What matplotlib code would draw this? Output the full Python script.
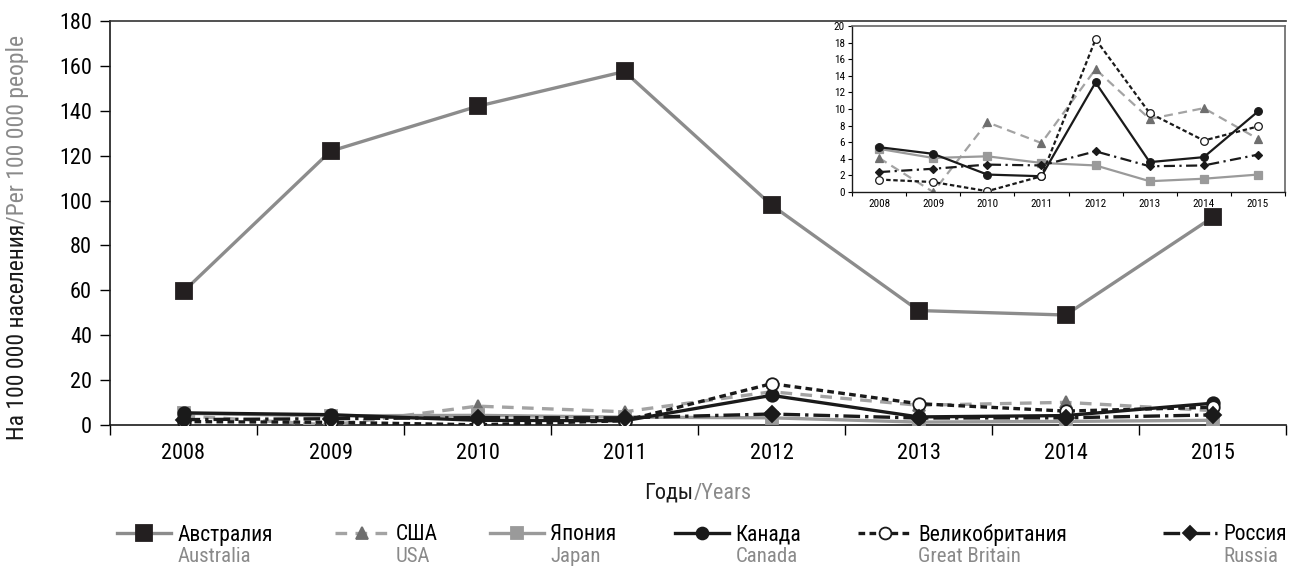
import numpy as np
import matplotlib
matplotlib.use("Agg")
import matplotlib.pyplot as plt
from matplotlib.ticker import FixedLocator
from matplotlib import font_manager

installed = {f.name for f in font_manager.fontManager.ttflist}
fams = [f for f in ['Roboto Condensed', 'Liberation Sans Narrow', 'Liberation Sans']
        if f in installed]
plt.rcParams['font.family'] = fams + ['DejaVu Sans']

years = ['2008', '2009', '2010', '2011', '2012', '2013', '2014', '2015']

australia = [59.5, 122, 142, 157.5, 98, 51, 49, 92.5]
usa = [4.1, 0.0, 8.4, 5.9, 14.8, 8.8, 10.1, 6.4]
japan = [5.2, 4.1, 4.3, 3.5, 3.2, 1.3, 1.6, 2.1]
canada = [5.4, 4.6, 2.1, 1.9, 13.2, 3.6, 4.2, 9.7]
britain = [1.5, 1.2, 0.1, 1.9, 18.4, 9.5, 6.2, 7.9]
russia = [2.4, 2.8, 3.3, 3.2, 4.9, 3.1, 3.2, 4.5]

names_ru = ['Австралия', 'США', 'Япония', 'Канада', 'Великобритания', 'Россия']
names_en = ['Australia', 'USA', 'Japan', 'Canada', 'Great Britain', 'Russia']

# line styles: color, linestyle, marker, marker face, marker edge
styles = [
    dict(color='#8c8c8c', ls='-', marker='s', mfc='#231f20', mec='#231f20'),
    dict(color='#a3a3a3', ls=(0, (3.5, 2.5)), marker='^', mfc='#6e6e6e', mec='#6e6e6e'),
    dict(color='#9a9a9a', ls='-', marker='s', mfc='#9a9a9a', mec='#9a9a9a'),
    dict(color='#1a1a1a', ls='-', marker='o', mfc='#1a1a1a', mec='#1a1a1a'),
    dict(color='#1a1a1a', ls=(0, (2, 1.3)), marker='o', mfc='white', mec='#1a1a1a'),
    dict(color='#1a1a1a', ls=(0, (5, 1.5, 1, 1.5)), marker='D', mfc='#1a1a1a', mec='#1a1a1a'),
]
series = [australia, usa, japan, canada, britain, russia]

fig = plt.figure(figsize=(12.9, 5.68), dpi=100)
ax = fig.add_axes([110/1290, 1-425/568, (1286-110)/1290, (425-21)/568])
x = np.arange(len(years))

lines = []
for i, (vals, st) in enumerate(zip(series, styles)):
    ms = 11.5 if i == 0 else 9
    if st['marker'] == 'D':
        ms = 8
    ln, = ax.plot(x, vals, color=st['color'], ls=st['ls'], lw=2.4,
                  marker=st['marker'], ms=ms, mfc=st['mfc'], mec=st['mec'],
                  mew=1.3, zorder=3 + (i == 0))
    lines.append(ln)

ax.set_xlim(-0.5, 7.5)
ax.set_ylim(0, 180)
ax.set_yticks(np.arange(0, 181, 20))
ax.set_xticks(x)
ax.set_xticklabels(years)
ax.xaxis.set_minor_locator(FixedLocator(np.arange(-0.5, 8, 1)))
ax.tick_params(axis='x', which='major', length=0, pad=13, labelsize=16)
ax.tick_params(axis='x', which='minor', length=7, width=1, direction='out')
ax.tick_params(axis='y', length=7, width=1, direction='out', labelsize=16, pad=6)
ax.spines['right'].set_visible(False)
for s in ['left', 'bottom']:
    ax.spines[s].set_linewidth(1.2)
    ax.spines[s].set_color('#1a1a1a')
ax.spines['top'].set_linewidth(1.2)
ax.spines['top'].set_color('#333333')

# inset
axi = fig.add_axes([852/1290, 1-192/568, (1285-852)/1290, (192-26)/568])
for i, (vals, st) in enumerate(zip(series[1:], styles[1:])):
    ls = st['ls']
    if ls == (0, (3.5, 2.5)):
        ls = (0, (4, 2.5))
    elif ls == (0, (2, 1.3)):
        ls = (0, (2, 1.2))
    elif ls == (0, (5, 1.5, 1, 1.5)):
        ls = (0, (5, 2, 1, 2))
    ms = 5.5 if st['marker'] != 'D' else 4.5
    axi.plot(x, vals, color=st['color'], ls=ls, lw=1.6, marker=st['marker'],
             ms=ms, mfc=st['mfc'], mec=st['mec'], mew=0.9)
axi.set_xlim(-0.5, 7.5)
axi.set_ylim(0, 20)
axi.set_yticks(np.arange(0, 21, 2))
axi.set_xticks(x)
axi.set_xticklabels(years)
axi.xaxis.set_minor_locator(FixedLocator(np.arange(-0.5, 8, 1)))
axi.tick_params(axis='x', which='major', length=0, pad=5, labelsize=8)
axi.tick_params(axis='x', which='minor', length=3, width=0.8)
axi.tick_params(axis='y', length=3, width=0.8, labelsize=8, pad=2)
for s in ['left', 'bottom']:
    axi.spines[s].set_color('#1a1a1a')
    axi.spines[s].set_linewidth(1)
for s in ['top', 'right']:
    axi.spines[s].set_color('#666666')
    axi.spines[s].set_linewidth(1.2)

# legend, one entry per block
leg_x = [117, 335, 490, 675, 858, 1163]
legs = []
for ln, name, lx in zip(lines, names_ru, leg_x):
    lg = fig.legend([ln], [name], loc='center left',
                    bbox_to_anchor=(lx/1290, 1-535/568), frameon=False,
                    fontsize=15.5, handlelength=2.5, handletextpad=0.3,
                    borderpad=0, borderaxespad=0, markerscale=0.95)
    legs.append(lg)

fig.canvas.draw()
r = fig.canvas.get_renderer()
for lg, en in zip(legs, names_en):
    bb = lg.get_texts()[0].get_window_extent(r)
    fig.text(bb.x0/fig.bbox.width, 1-556/568, en, color='#8a8a8a',
             fontsize=15, ha='left', va='center')

# axis titles in two colours
t1 = fig.text(0.5, 1-493/568, 'Годы', fontsize=16, color='#1a1a1a',
              ha='right', va='center')
t2 = fig.text(0.5, 1-493/568, '/Years', fontsize=16, color='#8a8a8a',
              ha='left', va='center')
fig.canvas.draw()
w1 = t1.get_window_extent(r).width
w2 = t2.get_window_extent(r).width
cx = 698
t1.set_x((cx - (w1 + w2)/2 + w1)/1290)
t2.set_x((cx - (w1 + w2)/2 + w1)/1290)

y1 = fig.text(18/1290, 1-440/568, 'На 100 000 населения', fontsize=17,
              color='#1a1a1a', rotation=90, ha='center', va='bottom')
fig.canvas.draw()
top = y1.get_window_extent(r).y1
fig.text(18/1290, top/fig.bbox.height, '/Per 100 000 people', fontsize=17,
         color='#8a8a8a', rotation=90, ha='center', va='bottom')

fig.savefig('out.png', dpi=100)
